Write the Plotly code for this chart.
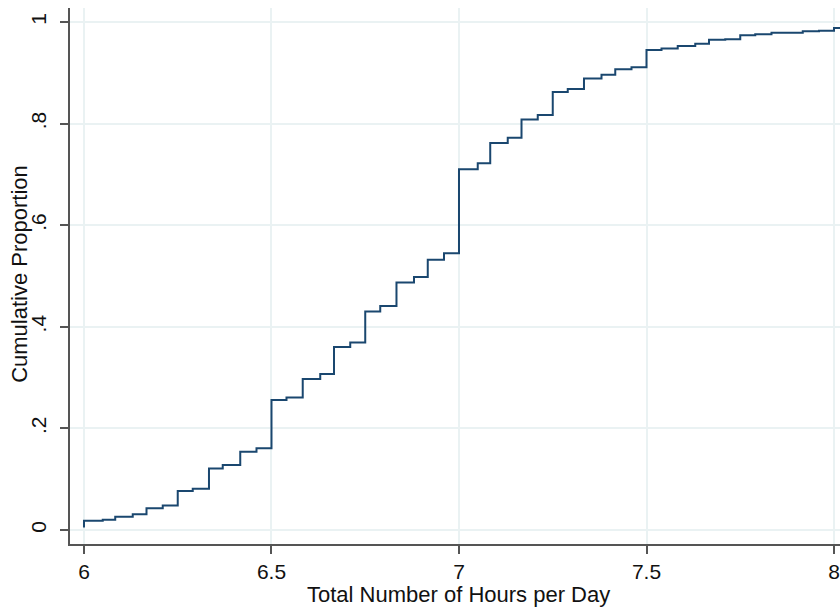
import plotly.graph_objects as go

# ECDF readings (hours, cumulative proportion)
hours = [6.0, 6.0, 6.05, 6.0833, 6.13, 6.1667, 6.21, 6.25, 6.29, 6.3333, 6.37,
         6.4167, 6.46, 6.5, 6.54, 6.5833, 6.63, 6.6667, 6.71, 6.75, 6.79,
         6.8333, 6.88, 6.9167, 6.96, 7.0, 7.05, 7.0833, 7.13, 7.1667, 7.21,
         7.25, 7.29, 7.3333, 7.38, 7.4167, 7.46, 7.5, 7.54, 7.5833, 7.63,
         7.6667, 7.71, 7.75, 7.79, 7.8333, 7.88, 7.9167, 7.96, 8.0, 8.016]
cum_prop = [0.005, 0.018, 0.020, 0.026, 0.031, 0.043, 0.048, 0.077, 0.081, 0.121, 0.128,
            0.154, 0.161, 0.256, 0.261, 0.297, 0.307, 0.360, 0.369, 0.430, 0.441,
            0.487, 0.498, 0.532, 0.545, 0.710, 0.722, 0.762, 0.772, 0.808, 0.817,
            0.862, 0.868, 0.889, 0.896, 0.907, 0.911, 0.945, 0.948, 0.953, 0.957,
            0.965, 0.966, 0.974, 0.976, 0.979, 0.979, 0.982, 0.983, 0.988, 0.988]

x_ticks = [6, 6.5, 7, 7.5, 8]
x_tick_text = ["6", "6.5", "7", "7.5", "8"]
y_ticks = [0, 0.2, 0.4, 0.6, 0.8, 1]
y_tick_text = ["0", ".2", ".4", ".6", ".8", "1"]
x_title = "Total Number of Hours per Day"
y_title = "Cumulative Proportion"

FONT = "Liberation Sans, Arial, sans-serif"
GRID = "#eaf2f3"
AXIS = "#555555"

fig = go.Figure()
fig.add_trace(go.Scatter(
    x=hours, y=cum_prop, mode="lines",
    line=dict(color="#1a476f", width=2, shape="hv"),
    showlegend=False, hoverinfo="skip",
))

fig.update_layout(
    width=840, height=608,
    margin=dict(l=70, r=0, t=8, b=64),
    paper_bgcolor="white", plot_bgcolor="white",
    font=dict(family=FONT, size=21, color="#111111"),
)
fig.update_xaxes(
    range=[5.9627, 8.016], automargin=False,
    tickvals=x_ticks, ticktext=x_tick_text,
    showgrid=True, gridcolor=GRID, gridwidth=1.5,
    showline=True, linecolor=AXIS, linewidth=2,
    ticks="outside", ticklen=8, tickwidth=2, tickcolor=AXIS,
    zeroline=False, ticklabelstandoff=0,
    tickfont=dict(size=21),
)
fig.update_yaxes(
    range=[-0.02756, 1.02756], automargin=False,
    tickvals=y_ticks, ticktext=y_tick_text, tickangle=-90,
    showgrid=True, gridcolor=GRID, gridwidth=1.5,
    showline=True, linecolor=AXIS, linewidth=2,
    ticks="outside", ticklen=8, tickwidth=2, tickcolor=AXIS,
    zeroline=False, ticklabelstandoff=6,
    tickfont=dict(size=21),
)
fig.add_annotation(text=x_title, xref="paper", yref="paper", x=0.505, y=0,
                   xanchor="center", yanchor="middle", yshift=-50,
                   showarrow=False, font=dict(size=22))
fig.add_annotation(text=y_title, xref="paper", yref="paper", x=0, y=0.504,
                   xanchor="center", yanchor="middle", xshift=-50, textangle=-90,
                   showarrow=False, font=dict(size=22))

fig.write_html(
    "out.html",
    config={"displayModeBar": False},
    post_script="document.body.style.margin='0';document.body.style.overflow='hidden';",
)
